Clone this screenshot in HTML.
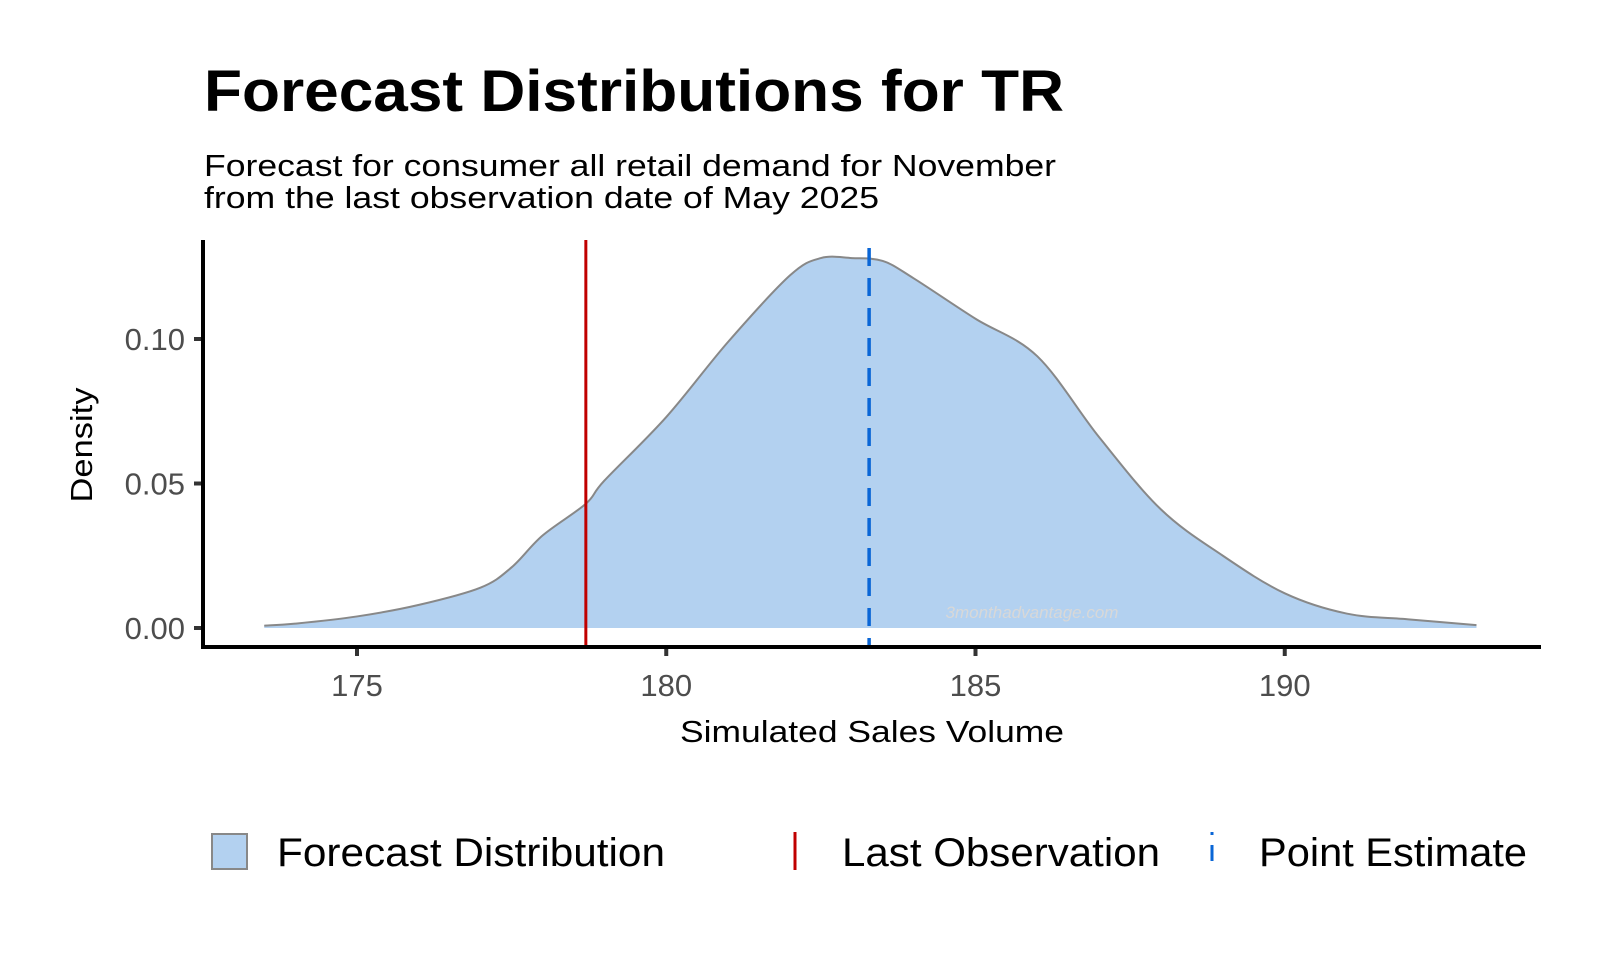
<!DOCTYPE html>
<html><head><meta charset="utf-8"><style>
html,body{margin:0;padding:0;background:#fff;}
svg{display:block;font-family:"Liberation Sans",Arial,sans-serif;}
</style></head><body>
<svg id="chart" width="1600" height="960" viewBox="0 0 1600 960">
<text x="204" y="111" font-size="58" font-weight="bold" textLength="860" lengthAdjust="spacingAndGlyphs">Forecast Distributions for TR</text>
<text x="204" y="176" font-size="31" textLength="852" lengthAdjust="spacingAndGlyphs">Forecast for consumer all retail demand for November</text>
<text x="204" y="208" font-size="31" textLength="675" lengthAdjust="spacingAndGlyphs">from the last observation date of May 2025</text>
<g id="plot"></g>
<text x="872" y="742" font-size="31" text-anchor="middle" textLength="384" lengthAdjust="spacingAndGlyphs">Simulated Sales Volume</text>
<text transform="translate(92,445) rotate(-90)" font-size="31" text-anchor="middle" textLength="115" lengthAdjust="spacingAndGlyphs">Density</text>
<g>
<rect x="212" y="834" width="35" height="35" fill="#b3d1f0" stroke="#888" stroke-width="2"/>
<text x="277" y="866" font-size="40" textLength="388" lengthAdjust="spacingAndGlyphs">Forecast Distribution</text>
<line x1="795" y1="832" x2="795" y2="870" stroke="#c00000" stroke-width="3"/>
<text x="842" y="866" font-size="40" textLength="318" lengthAdjust="spacingAndGlyphs">Last Observation</text>
<line x1="1212" y1="832" x2="1212" y2="870" stroke="#0a66d6" stroke-width="3" stroke-dasharray="3,10,16,50"/>
<text x="1259" y="866" font-size="40" textLength="268" lengthAdjust="spacingAndGlyphs">Point Estimate</text>
</g>
</svg>
<script>
const xs = [173.5,174,175,176,177,177.5,178,178.7,179,180,181,182,182.5,183,183.5,184,185,186,187,188,189,190,191,192,193.1];
const dens = [0.0008,0.0015,0.004,0.008,0.014,0.021,0.032,0.043,0.051,0.073,0.099,0.122,0.128,0.128,0.127,0.121,0.107,0.094,0.066,0.041,0.025,0.012,0.005,0.003,0.001];
const xTicks = [175,180,185,190];
const yTicks = [0,0.05,0.10];
const yTickLabels = ["0.00","0.05","0.10"];
const lastObs = 178.7;
const pointEst = 183.28;

const NS="http://www.w3.org/2000/svg";
const plot=document.getElementById('plot');
const X=v=>357+(v-175)*61.85;
const Y=v=>628-v*2890;
function mk(t,a){const e=document.createElementNS(NS,t);for(const k in a)e.setAttribute(k,a[k]);plot.appendChild(e);return e;}

const pts=xs.map((v,i)=>[X(v),Y(dens[i])]);
function smooth(p){
  let s='M'+p[0][0]+','+p[0][1];
  for(let i=0;i<p.length-1;i++){
    const p0=p[i-1]||p[i],p1=p[i],p2=p[i+1],p3=p[i+2]||p2;
    const c1=[p1[0]+(p2[0]-p0[0])/6,p1[1]+(p2[1]-p0[1])/6];
    const c2=[p2[0]-(p3[0]-p1[0])/6,p2[1]-(p3[1]-p1[1])/6];
    s+=' C'+c1[0]+','+c1[1]+' '+c2[0]+','+c2[1]+' '+p2[0]+','+p2[1];
  }
  return s;
}
const curve=smooth(pts);
const d=curve+' L'+X(xs[xs.length-1])+','+Y(0)+' L'+X(xs[0])+','+Y(0)+' Z';
const area=mk('path',{d:d,fill:'#b3d1f0'});


const line=mk('path',{d:curve,fill:'none',stroke:'#888',"stroke-width":2,"stroke-linejoin":"round"});



const wm=mk('text',{x:1032,y:618,"font-size":17,"font-style":"italic",fill:'#d8d8d8',"text-anchor":"middle"});
wm.textContent='3monthadvantage.com';



const rl=mk('line',{x1:X(lastObs),x2:X(lastObs),y1:240,y2:647,stroke:'#c00000',"stroke-width":3});


const bl=mk('line',{x1:X(pointEst),x2:X(pointEst),y1:248,y2:647,stroke:'#0a66d6',"stroke-width":3.5,"stroke-dasharray":"18,12"});



const ya=mk('line',{x1:203,x2:203,y1:240,y2:649,stroke:'#000',"stroke-width":4});


const xa=mk('line',{x1:201,x2:1541,y1:647,y2:647,stroke:'#000',"stroke-width":4});



yTicks.forEach((v,i)=>{
  const t=mk('line',{x1:194,x2:201,y1:Y(v),y2:Y(v),stroke:'#333',"stroke-width":4});
  
  
  const l=mk('text',{x:185,y:Y(v)+11,"font-size":31,fill:'#4d4d4d',"text-anchor":"end"});
  l.textContent=yTickLabels[i];
  
  
});
xTicks.forEach(v=>{
  const t=mk('line',{x1:X(v),x2:X(v),y1:649,y2:656,stroke:'#333',"stroke-width":4});
  
  
  const l=mk('text',{x:X(v),y:696,"font-size":31,fill:'#4d4d4d',"text-anchor":"middle"});
  l.textContent=String(v);
  
  
});
</script>
</body></html>
